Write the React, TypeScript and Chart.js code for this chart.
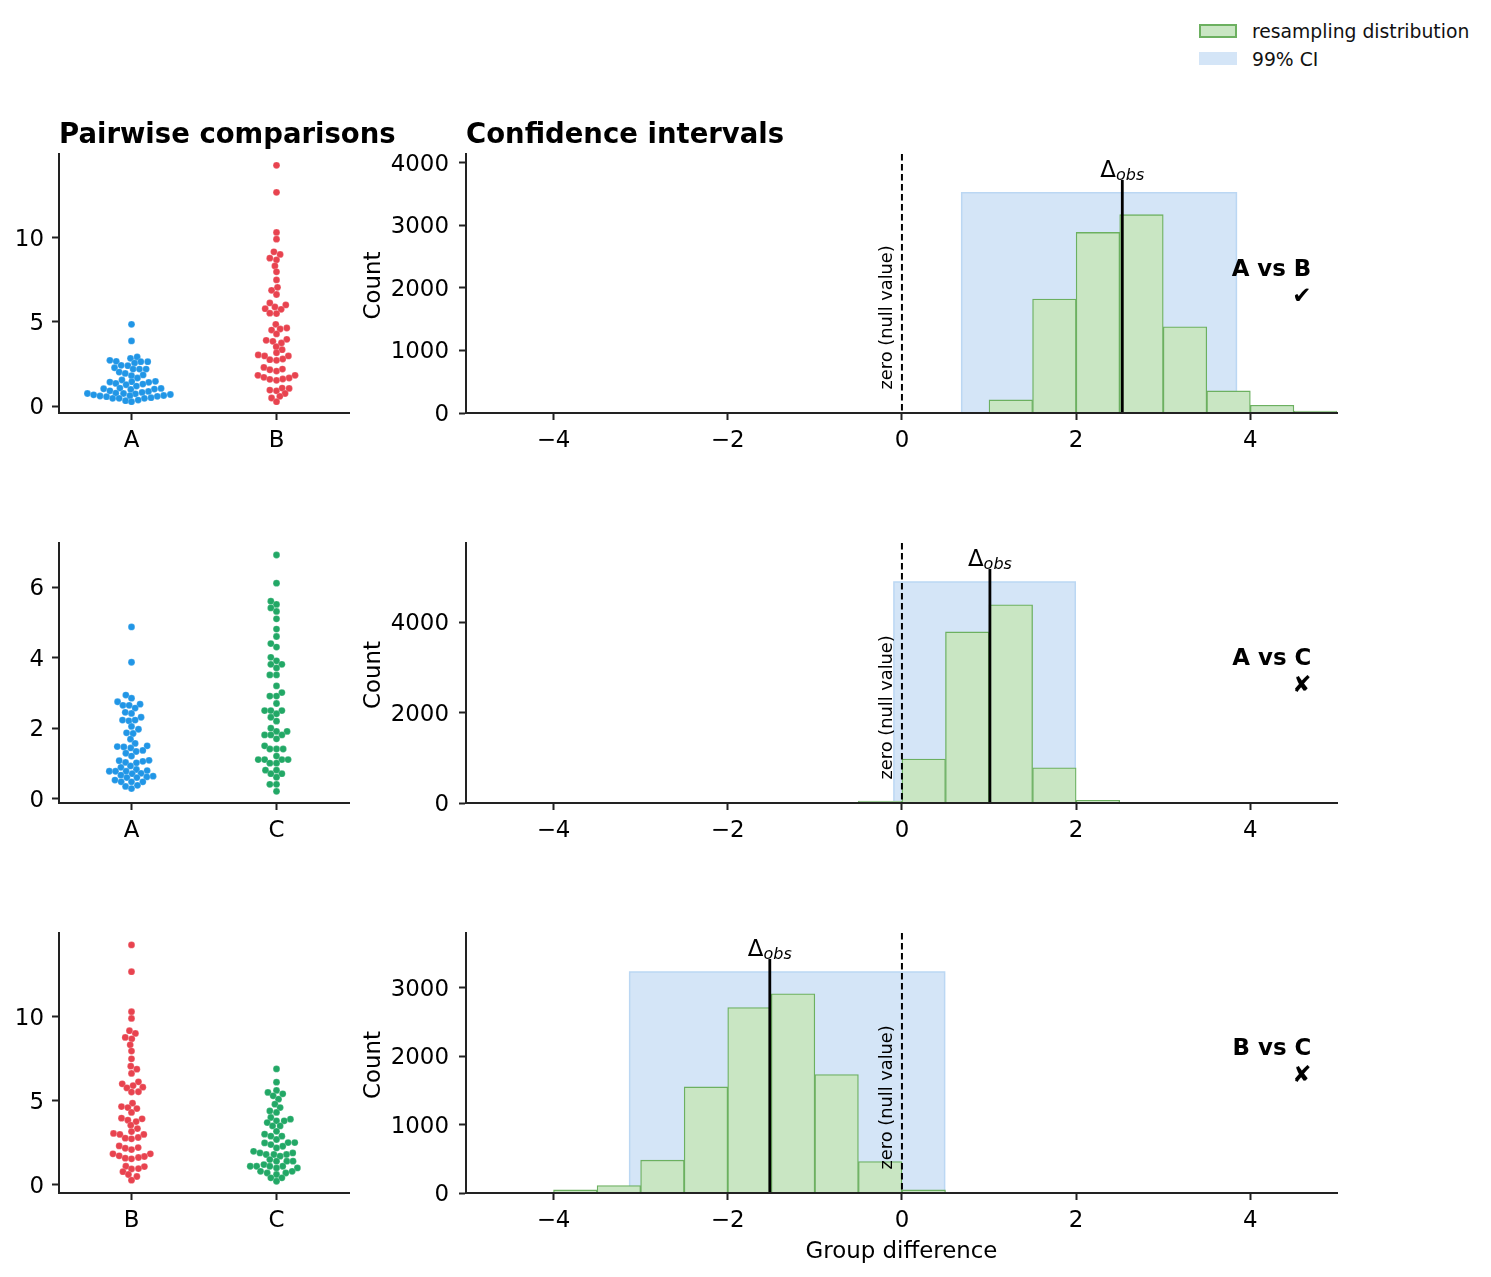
import { useEffect, useRef } from "react";
import { Chart, registerables } from "chart.js";

Chart.register(...registerables);

const FONT = "'DejaVu Sans'";
const INK = "#222222";
const BLUE = "#2196e6";
const RED = "#e8434f";
const GREEN = "#22a866";
const HIST_FILL = "#c9e6c3";
const HIST_EDGE = "#6cb060";
const CI_FILL = "#d4e5f7";
const CI_EDGE = "#bbd7f3";

// swarm values, first group of each row
const abAValues = [4.86, 3.87, 2.84, 2.92, 2.72, 2.66, 2.64, 2.64, 2.56, 2.42, 2.40, 2.28, 2.20, 2.20, 2.20, 2.02, 1.94, 1.85, 1.81, 1.67, 1.55, 1.43, 1.35, 1.45, 1.47, 1.41, 1.31, 1.27, 1.19, 1.03, 1.07, 0.91, 0.99, 1.05, 1.01, 0.87, 0.81, 0.77, 0.75, 0.73, 0.75, 0.67, 0.69, 0.63, 0.60, 0.56, 0.62, 0.58, 0.46, 0.46, 0.50, 0.46, 0.32, 0.36, 0.26];
const abAOffsets = [0, 0, -0.007, 0.039, -0.149, -0.105, 0.064, 0.112, 0.021, -0.071, -0.025, -0.117, 0.011, 0.055, 0.101, -0.085, -0.043, 0.08, 0, 0.041, -0.066, -0.149, -0.108, 0.002, 0.165, 0.119, 0.078, -0.037, 0.034, -0.192, -0.08, -0.149, -0.005, 0.204, 0.158, 0.117, 0.073, -0.108, -0.055, 0.027, -0.304, -0.261, 0.268, 0.222, -0.217, -0.172, -0.011, 0.178, -0.13, -0.085, 0.135, 0.089, -0.041, 0.046, 0];
const abBValues = [14.31, 12.70, 10.32, 9.92, 9.17, 9.01, 8.79, 8.69, 8.33, 7.98, 7.50, 7.06, 6.88, 6.63, 6.13, 6.01, 5.89, 5.79, 5.75, 5.52, 5.50, 4.86, 4.64, 4.58, 4.52, 4.29, 3.97, 3.91, 3.85, 3.75, 3.53, 3.35, 3.17, 3.04, 2.98, 2.98, 2.76, 2.72, 2.80, 2.30, 2.16, 2.08, 2.20, 1.83, 1.83, 1.71, 1.67, 1.59, 1.53, 1.61, 0.95, 0.91, 1.07, 1.05, 0.75, 0.48, 0.58, 0.26];
const abBOffsets = [0, 0, 0, 0, -0.018, 0.025, -0.046, 0, -0.011, 0, 0, 0.007, -0.034, 0, -0.046, 0.064, -0.011, -0.078, 0.032, -0.046, 0, -0.005, 0.071, 0.025, -0.034, 0, 0.071, -0.071, -0.025, 0.034, -0.002, 0.039, 0, -0.126, -0.082, 0.082, -0.046, 0, 0.043, -0.087, -0.046, 0, 0.041, -0.128, 0.128, -0.087, 0.087, -0.046, 0, 0.043, -0.046, 0, 0.039, 0.087, 0.059, -0.034, 0.023, 0];

const acAValues = [4.87, 3.87, 2.94, 2.85, 2.75, 2.68, 2.65, 2.65, 2.57, 2.45, 2.42, 2.31, 2.23, 2.21, 2.23, 2.05, 1.97, 1.87, 1.85, 1.69, 1.57, 1.50, 1.48, 1.47, 1.44, 1.37, 1.34, 1.29, 1.21, 1.09, 1.08, 1.06, 1.03, 1.02, 0.93, 0.89, 0.83, 0.80, 0.78, 0.78, 0.78, 0.72, 0.71, 0.67, 0.64, 0.62, 0.60, 0.60, 0.53, 0.48, 0.48, 0.48, 0.38, 0.35, 0.29];
const acAOffsets = [0, 0, -0.039, 0, -0.096, 0.059, -0.059, -0.016, 0.025, -0.043, 0, 0.066, -0.062, -0.018, 0.025, 0, 0.048, -0.034, 0.011, -0.007, 0.025, 0.108, -0.098, -0.053, -0.005, 0.078, 0.032, -0.039, 0, 0.121, -0.085, 0.078, -0.041, 0.034, -0.007, -0.073, 0.034, 0.108, -0.153, -0.11, -0.037, 0.066, 0.005, -0.073, 0.149, 0.105, -0.032, 0.037, -0.114, -0.071, 0, 0.078, 0.041, -0.041, 0];
const acCValues = [6.91, 6.11, 5.60, 5.51, 5.41, 5.31, 5.10, 4.81, 4.60, 4.40, 4.30, 4.01, 3.91, 3.81, 3.81, 3.71, 3.51, 3.51, 3.20, 3.01, 2.91, 2.91, 2.70, 2.50, 2.50, 2.50, 2.41, 2.31, 2.20, 2.00, 1.91, 1.91, 1.81, 1.81, 1.81, 1.70, 1.50, 1.41, 1.41, 1.41, 1.21, 1.11, 1.11, 1.11, 1.11, 1.01, 1.01, 0.81, 0.81, 0.71, 0.71, 0.61, 0.41, 0.41, 0.21];
const acCOffsets = [0, 0, -0.039, 0, -0.039, 0, 0, 0, 0, -0.039, 0, -0.039, 0, -0.039, 0.037, 0, -0.046, 0, 0, 0.037, -0.046, 0, 0, -0.082, -0.039, 0.037, 0, -0.039, 0, -0.039, 0.073, 0, -0.082, -0.039, 0.037, 0, -0.082, -0.046, 0, 0.046, 0, -0.126, -0.082, 0.037, 0.08, -0.046, 0, -0.076, 0, -0.039, 0.037, 0, -0.046, 0, 0];

const bcBValues = [14.27, 12.68, 10.30, 9.90, 9.17, 9.01, 8.77, 8.69, 8.33, 7.96, 7.50, 7.06, 6.88, 6.63, 6.01, 6.13, 5.91, 5.81, 5.77, 5.52, 5.54, 4.86, 4.66, 4.54, 4.60, 4.31, 3.97, 3.93, 3.85, 3.77, 3.55, 3.35, 3.17, 3.06, 3.00, 3.00, 2.82, 2.78, 2.74, 2.32, 2.22, 2.18, 2.10, 1.85, 1.85, 1.73, 1.69, 1.63, 1.59, 1.55, 1.11, 1.09, 0.97, 0.95, 0.79, 0.62, 0.50, 0.28];
const bcBOffsets = [0, 0, 0, 0, -0.014, 0.027, -0.043, 0.002, -0.009, 0, 0, -0.005, 0.037, 0, -0.064, 0.048, 0.011, 0.078, -0.032, 0, 0.048, 0.007, -0.069, 0.037, -0.025, 0, -0.069, 0.073, -0.025, 0.032, -0.005, 0.041, 0, -0.124, -0.08, 0.085, 0.046, -0.043, 0, -0.085, 0.046, -0.043, 0, -0.128, 0.13, -0.085, 0.089, 0.048, -0.043, 0, -0.039, 0.089, 0.048, 0, -0.059, -0.021, 0.037, 0];
const bcCValues = [6.90, 6.11, 5.50, 5.62, 5.42, 5.30, 5.10, 4.80, 4.60, 4.40, 4.31, 4.01, 3.91, 3.81, 3.81, 3.71, 3.51, 3.51, 3.19, 3.02, 2.90, 2.90, 2.70, 2.50, 2.40, 2.52, 2.52, 2.30, 2.20, 2.00, 1.90, 1.81, 1.81, 1.90, 1.81, 1.71, 1.51, 1.41, 1.41, 1.41, 1.21, 1.11, 1.11, 1.11, 1.11, 1.01, 1.01, 0.81, 0.71, 0.81, 0.71, 0.62, 0.42, 0.42, 0.22];
const bcCOffsets = [0, 0, -0.059, 0, 0.043, -0.023, 0.014, -0.011, 0.025, -0.046, 0, -0.039, 0.096, 0.053, 0, -0.064, -0.027, 0.025, 0, -0.082, -0.039, 0.037, 0, -0.082, -0.039, 0.08, 0.126, 0.043, 0, -0.158, -0.114, -0.071, -0.018, 0.112, 0.069, 0.025, -0.046, 0, 0.071, 0.114, -0.087, -0.181, -0.137, -0.046, 0.043, 0.144, 0, -0.11, -0.064, 0.108, 0.064, 0, -0.039, 0.037, 0];

// resampling histograms, bins are 0.5 wide
const abBinCenters = [1.25, 1.75, 2.25, 2.75, 3.25, 3.75, 4.25, 4.75];
const abCounts = [209, 1822, 2886, 3170, 1378, 353, 124, 30];
const acBinCenters = [-0.25, 0.25, 0.75, 1.25, 1.75, 2.25];
const acCounts = [40, 975, 3790, 4390, 780, 60];
const bcBinCenters = [-3.75, -3.25, -2.75, -2.25, -1.75, -1.25, -0.75, -0.25, 0.25];
const bcCounts = [45, 110, 480, 1550, 2710, 2910, 1730, 460, 45];

const xTicksDiff = [-4, -2, 0, 2, 4];

const rows = [
  {
    top: 154, height: 259, names: ["A", "B"], colors: [BLUE, RED],
    swarm: [[abAValues, abAOffsets], [abBValues, abBOffsets]],
    swarmMin: -0.41, swarmMax: 14.98, swarmTicks: [0, 5, 10],
    bins: abBinCenters, counts: abCounts, countMax: 4140, countTicks: [0, 1000, 2000, 3000, 4000],
    ci: [0.686, 3.84], delta: 2.53, label: "A vs B", mark: "\u2714",
  },
  {
    top: 543, height: 260, names: ["A", "C"], colors: [BLUE, GREEN],
    swarm: [[acAValues, acAOffsets], [acCValues, acCOffsets]],
    swarmMin: -0.12, swarmMax: 7.25, swarmTicks: [0, 2, 4, 6],
    bins: acBinCenters, counts: acCounts, countMax: 5760, countTicks: [0, 2000, 4000],
    ci: [-0.092, 1.99], delta: 1.01, label: "A vs C", mark: "\u2718",
  },
  {
    top: 933, height: 260, names: ["B", "C"], colors: [RED, GREEN],
    swarm: [[bcBValues, bcBOffsets], [bcCValues, bcCOffsets]],
    swarmMin: -0.48, swarmMax: 14.98, swarmTicks: [0, 5, 10],
    bins: bcBinCenters, counts: bcCounts, countMax: 3800, countTicks: [0, 1000, 2000, 3000],
    ci: [-3.126, 0.49], delta: -1.517, label: "B vs C", mark: "\u2718",
  },
];

type Row = (typeof rows)[number];

const TICK_SIZE = 22.9;
const NOTE_SIZE = 17.8;
const TITLE_SIZE = 27.5;

const axisBits = {
  grid: { drawOnChartArea: false, drawTicks: true, tickLength: 7, tickWidth: 2, tickColor: INK },
  border: { color: INK, width: 2, z: 1 },
};

const tickFont = { family: FONT, size: TICK_SIZE };
const minusSign = (v: number | string) => String(v).replace("-", "\u2212");

// y tick labels sit a little under their tick in the reference
const yLabelNudge = {
  id: "yLabelNudge",
  beforeDraw(chart: any) {
    chart.scales.y.getLabelItems().forEach((item: any) => {
      item.options.translation[1] += 2;
    });
  },
};

// panel titles are wider than the left plot, so they can't go through the title plugin
function headingPlugin(text: string, show: boolean) {
  return {
    id: "heading",
    afterDraw(chart: any) {
      if (!show) return;
      const { ctx, chartArea } = chart;
      ctx.save();
      ctx.fillStyle = "#000";
      ctx.textAlign = "left";
      ctx.textBaseline = "alphabetic";
      ctx.font = `bold ${TITLE_SIZE}px ${FONT}`;
      ctx.fillText(text, chartArea.left, chartArea.top - 11);
      ctx.restore();
    },
  };
}

function swarmConfig(row: Row, first: boolean) {
  const marginLeft = 59;
  const marginBottom = 50;
  return {
    type: "scatter",
    data: {
      datasets: row.swarm.map(([values, offsets], g) => ({
        data: values.map((v, i) => ({ x: g + offsets[i], y: v })),
        backgroundColor: row.colors[g],
        borderColor: "rgba(255,255,255,0.6)",
        borderWidth: 0.3,
        pointRadius: 3.4,
      })),
    },
    options: {
      animation: false,
      responsive: false,
      events: [],
      layout: { padding: { top: 60, right: 60, left: 0, bottom: 0 } },
      plugins: { legend: { display: false }, tooltip: { enabled: false } },
      scales: {
        x: {
          type: "linear",
          min: -0.5,
          max: 1.5,
          afterFit: (s: any) => { s.height = marginBottom; },
          afterBuildTicks: (s: any) => { s.ticks = row.names.map((_, i) => ({ value: i })); },
          ticks: { color: "#000", font: tickFont, padding: 7, maxRotation: 0, callback: (v: number) => row.names[v] },
          ...axisBits,
        },
        y: {
          min: row.swarmMin,
          max: row.swarmMax,
          afterFit: (s: any) => { s.width = marginLeft; },
          afterBuildTicks: (s: any) => { s.ticks = row.swarmTicks.map((value) => ({ value })); },
          ticks: { color: "#000", font: tickFont, padding: 8 },
          ...axisBits,
        },
      },
    },
    plugins: [yLabelNudge, headingPlugin("Pairwise comparisons", first)],
  };
}

// text that sits inside the histogram panels, plus the Count label
function notesPlugin(row: Row) {
  return {
    id: "panelNotes",
    afterDatasetsDraw(chart: any) {
      const { ctx, chartArea, scales } = chart;
      ctx.save();
      ctx.fillStyle = "#000";

      const dx = scales.x.getPixelForValue(row.delta);
      ctx.textBaseline = "alphabetic";
      ctx.textAlign = "left";
      ctx.font = `22.9px ${FONT}`;
      const deltaW = ctx.measureText("\u0394").width;
      ctx.font = `italic 16px ${FONT}`;
      const obsW = ctx.measureText("obs").width;
      const startX = dx - (deltaW + obsW) / 2;
      const base = chartArea.top + 23;
      ctx.font = `22.9px ${FONT}`;
      ctx.fillText("\u0394", startX, base);
      ctx.font = `italic 16px ${FONT}`;
      ctx.fillText("obs", startX + deltaW, base + 3);

      ctx.save();
      ctx.translate(scales.x.getPixelForValue(-0.17), chartArea.bottom - 23.5);
      ctx.rotate(-Math.PI / 2);
      ctx.textAlign = "left";
      ctx.textBaseline = "middle";
      ctx.font = `${NOTE_SIZE}px ${FONT}`;
      ctx.fillText("zero (null value)", 0, 0);
      ctx.restore();

      ctx.save();
      ctx.translate(chartArea.left - 92, (chartArea.top + chartArea.bottom) / 2 + 2);
      ctx.rotate(-Math.PI / 2);
      ctx.textAlign = "center";
      ctx.textBaseline = "middle";
      ctx.font = `${TICK_SIZE}px ${FONT}`;
      ctx.fillText("Count", 0, 0);
      ctx.restore();

      const noteX = scales.x.getPixelForValue(4.7);
      ctx.textAlign = "right";
      ctx.textBaseline = "middle";
      ctx.font = `bold 22.9px ${FONT}`;
      ctx.fillText(row.label, noteX, chartArea.top + chartArea.height * 0.448);
      ctx.fillText(row.mark, noteX, chartArea.top + chartArea.height * 0.552);
      ctx.restore();
    },
  };
}

function histConfig(row: Row, first: boolean, last: boolean) {
  const marginLeft = 106;
  const marginBottom = 73;
  const top = row.countMax;
  return {
    type: "bar",
    data: {
      datasets: [
        {
          type: "line",
          order: 4,
          data: [
            { x: row.ci[0], y: 0 },
            { x: row.ci[0], y: top * 0.85 },
            { x: row.ci[1], y: top * 0.85 },
            { x: row.ci[1], y: 0 },
          ],
          fill: "origin",
          backgroundColor: CI_FILL,
          borderColor: CI_EDGE,
          borderWidth: 1.5,
          pointRadius: 0,
        },
        {
          order: 3,
          data: row.bins.map((b, i) => ({ x: b, y: row.counts[i] })),
          backgroundColor: HIST_FILL,
          borderColor: HIST_EDGE,
          borderWidth: 1.3,
          categoryPercentage: 1,
          barPercentage: 1,
          grouped: false,
        },
        {
          type: "line",
          order: 2,
          data: [{ x: 0, y: top }, { x: 0, y: 0 }],
          borderColor: "#000",
          borderWidth: 2,
          borderDash: [6.5, 3.5],
          pointRadius: 0,
        },
        {
          type: "line",
          order: 1,
          data: [{ x: row.delta, y: 0 }, { x: row.delta, y: top * 0.9 }],
          borderColor: "#000",
          borderWidth: 2.8,
          pointRadius: 0,
        },
      ],
    },
    options: {
      animation: false,
      responsive: false,
      events: [],
      layout: { padding: { top: 60, right: 20, left: 0, bottom: 0 } },
      plugins: { legend: { display: false }, tooltip: { enabled: false } },
      scales: {
        x: {
          type: "linear",
          min: -5.005,
          max: 4.995,
          offset: false,
          afterFit: (s: any) => { s.height = marginBottom; },
          afterBuildTicks: (s: any) => { s.ticks = xTicksDiff.map((value) => ({ value })); },
          title: {
            display: last,
            text: "Group difference",
            color: "#000",
            font: { family: FONT, size: TICK_SIZE },
            padding: 0,
          },
          ticks: { color: "#000", font: tickFont, padding: 7, maxRotation: 0, callback: minusSign },
          ...axisBits,
          grid: { ...axisBits.grid, offset: false },
        },
        y: {
          min: 0,
          max: top,
          afterFit: (s: any) => { s.width = marginLeft; },
          afterBuildTicks: (s: any) => { s.ticks = row.countTicks.map((value) => ({ value })); },
          ticks: { color: "#000", font: tickFont, padding: 10, callback: (v: number) => String(v) },
          ...axisBits,
        },
      },
    },
    plugins: [yLabelNudge, notesPlugin(row), headingPlugin("Confidence intervals", first)],
  };
}

function Panel({ config, left, top, width, height }: any) {
  const ref = useRef<HTMLCanvasElement>(null);
  useEffect(() => {
    if (!ref.current) return;
    const chart = new Chart(ref.current, config());
    return () => chart.destroy();
  }, [config]);
  return (
    <canvas
      ref={ref}
      width={width}
      height={height}
      style={{ position: "absolute", left, top, width, height, display: "block" }}
    />
  );
}

const swarmConfigs = rows.map((r, i) => () => swarmConfig(r, i === 0));
const histConfigs = rows.map((r, i) => () => histConfig(r, i === 0, i === rows.length - 1));

const legendText = { position: "absolute" as const, left: 1252, fontFamily: FONT, fontSize: 18.75, lineHeight: "20px", color: "#111", whiteSpace: "nowrap" as const };

export default function App() {
  return (
    <div style={{ position: "absolute", left: 0, top: 0, width: 1491, height: 1277, background: "#fff", overflow: "hidden" }}>
      {rows.map((r, i) => (
        <Panel key={"s" + i} config={swarmConfigs[i]} left={0} top={r.top - 60} width={409} height={r.height + 110} />
      ))}
      {rows.map((r, i) => (
        <Panel key={"h" + i} config={histConfigs[i]} left={360} top={r.top - 60} width={997} height={r.height + 133} />
      ))}
      <div style={{ position: "absolute", left: 1199, top: 24, width: 34, height: 10, background: HIST_FILL, border: `2px solid ${HIST_EDGE}` }} />
      <div style={{ ...legendText, top: 22 }}>resampling distribution</div>
      <div style={{ position: "absolute", left: 1199, top: 52, width: 38, height: 13, background: CI_FILL }} />
      <div style={{ ...legendText, top: 50 }}>99% CI</div>
    </div>
  );
}
